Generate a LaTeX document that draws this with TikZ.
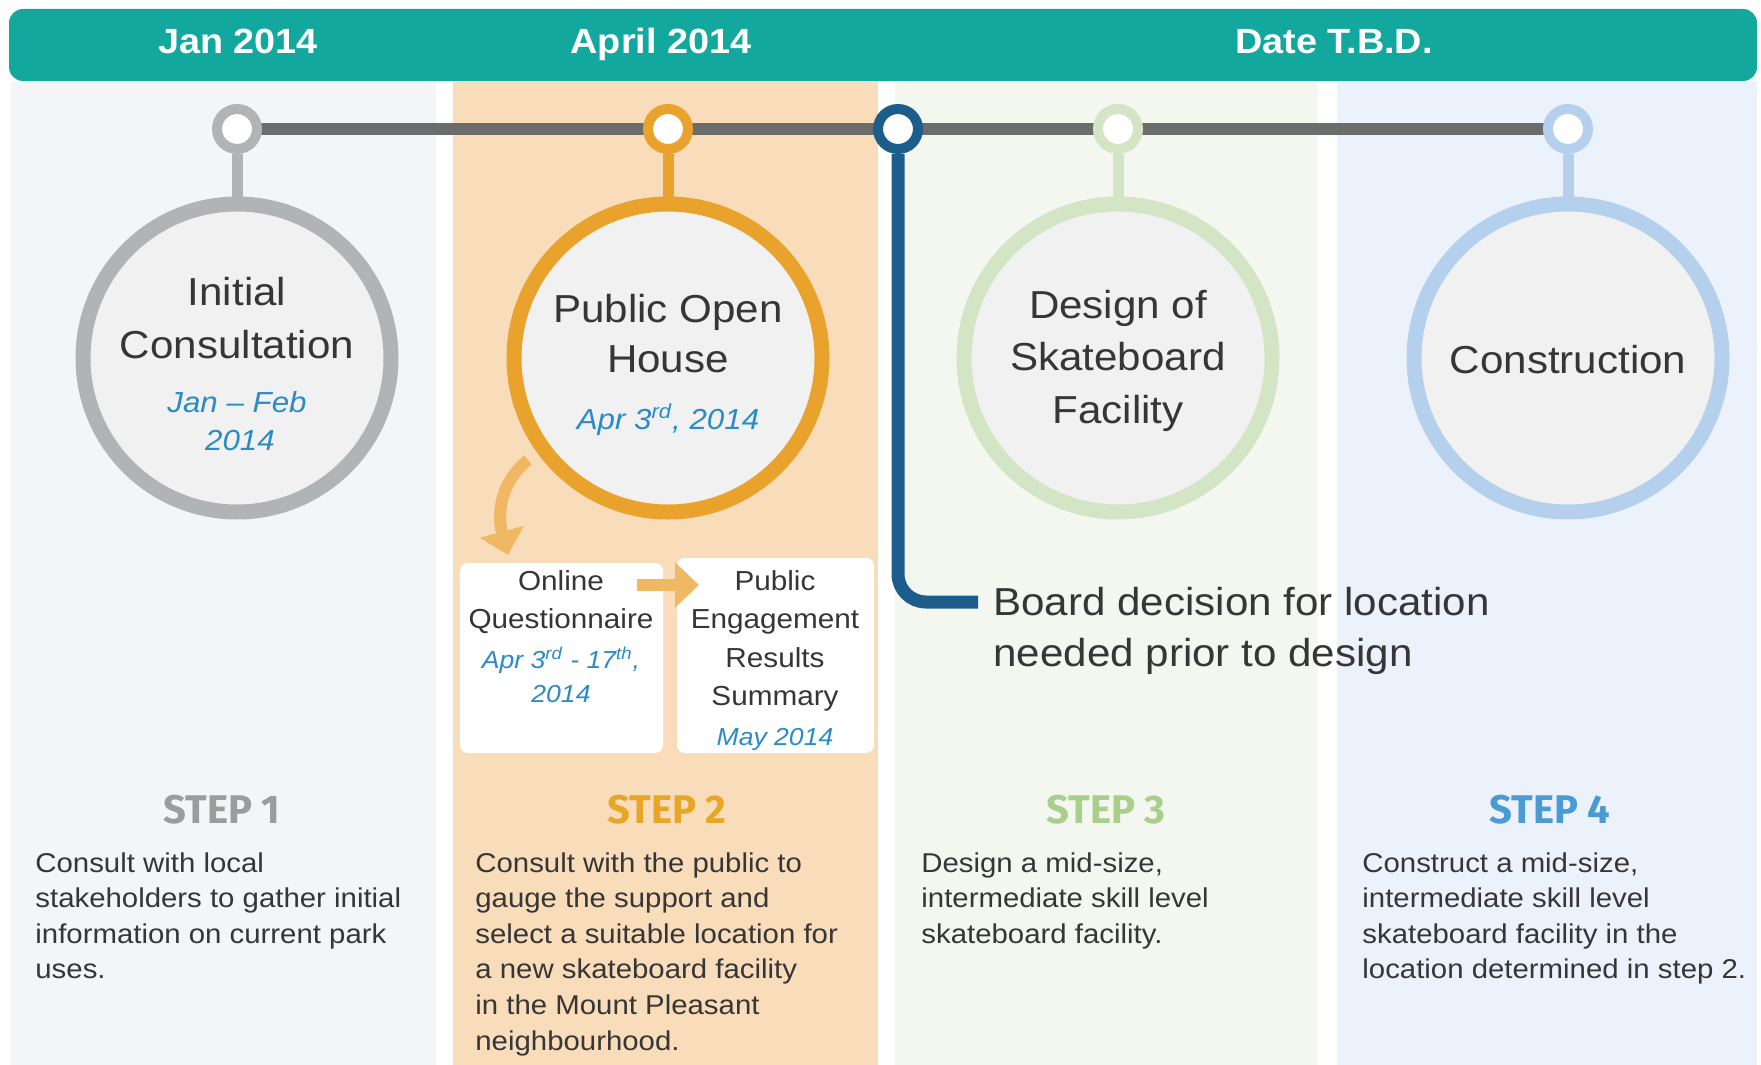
\documentclass[tikz,border=0pt]{standalone}
\usepackage{fontspec}
\setmainfont{Liberation Sans}[FakeStretch=1.08]
\newfontfamily\stepfont{Fira Sans}
\usetikzlibrary{arrows.meta}
\definecolor{hdr}{HTML}{13A89E}
\definecolor{bgA}{HTML}{F3F5F6}
\definecolor{bgB}{HTML}{F9DDBB}
\definecolor{bgC}{HTML}{F3F7EF}
\definecolor{bgD}{HTML}{ECF2FC}
\definecolor{cA}{HTML}{B1B4B4}
\definecolor{cB}{HTML}{E9A22C}
\definecolor{cC}{HTML}{D4E5C5}
\definecolor{cD}{HTML}{B5D0EC}
\definecolor{cBlue}{HTML}{1D5D8C}
\definecolor{tline}{HTML}{6B6D6D}
\definecolor{cfill}{HTML}{F1F1F2}
\definecolor{txt}{HTML}{363636}
\definecolor{datec}{HTML}{2A8BC6}
\definecolor{arrc}{HTML}{F1B864}
\definecolor{sA}{HTML}{9C9C9C}
\definecolor{sB}{HTML}{E8A628}
\definecolor{sC}{HTML}{A8CF8C}
\definecolor{sD}{HTML}{4A9AD3}
\begin{document}
\begin{tikzpicture}[x=0.5pt,y=-0.5pt,
  ring/.style={circle,fill=white,draw=#1,line width=5pt,minimum size=20pt,inner sep=0pt},
  big/.style={circle,fill=cfill,draw=#1,line width=7.5pt,minimum size=154pt,inner sep=0pt},
  stem/.style={draw=#1,line width=5.5pt},
  hdrtext/.style={anchor=base,text=white,font=\bfseries\fontsize{17.5pt}{20pt}\selectfont,inner sep=0pt},
  ctext/.style={anchor=base,text=txt,font=\fontsize{19.5pt}{23pt}\selectfont,inner sep=0pt},
  cdate/.style={anchor=base,text=datec,font=\itshape\fontsize{14.5pt}{17pt}\selectfont,inner sep=0pt},
  btext/.style={anchor=base,text=txt,font=\fontsize{13.75pt}{16pt}\selectfont,inner sep=0pt},
  bdate/.style={anchor=base,text=datec,font=\itshape\fontsize{12.3pt}{15pt}\selectfont,inner sep=0pt},
  wbox/.style={draw=none,fill=white,rounded corners=4pt,inner sep=0pt},
  steplbl/.style={anchor=base,text=#1,font=\stepfont\bfseries\fontsize{20pt}{24pt}\selectfont,inner sep=0pt},
  desc/.style={anchor=north west,align=left,text=txt,inner sep=0pt,font=\fontsize{13.6pt}{17.8pt}\selectfont},
  arr/.style={draw=arrc,line width=6pt,-{Triangle[length=12pt,width=22pt]}}
]
\useasboundingbox (0,0) rectangle (1761,1065);
\fill[white] (0,0) rectangle (1761,1065);
% column backgrounds
\fill[bgA] (11,81) rectangle (436,1065);
\fill[bgB] (453,81) rectangle (878,1065);
\fill[bgC] (895,81) rectangle (1318,1065);
\fill[bgD] (1337,81) rectangle (1757,1065);
% header
\fill[hdr,rounded corners=7pt] (9,9) rectangle (1757,81);
\node[hdrtext] (h1) at (238,54) {Jan 2014};
\node[hdrtext] (h2) at (661,54) {April 2014};
\node[hdrtext] (h3) at (1334,54) {Date T.B.D.};
% timeline
\coordinate (p1) at (237,129);
\coordinate (p2) at (668,129);
\coordinate (p3) at (898,129);
\coordinate (p4) at (1118,129);
\coordinate (p5) at (1568,129);
\draw[tline,line width=6pt] (p1) -- (p5);
% big circles
\node[big=cA] (C1) at (237,358) {};
\node[big=cB] (C2) at (668,358) {};
\node[big=cC] (C3) at (1118,358) {};
\node[big=cD] (C4) at (1568,358) {};
% rings
\node[ring=cA] (r1) at (p1) {};
\node[ring=cB] (r2) at (p2) {};
\node[ring=cBlue] (r3) at (p3) {};
\node[ring=cC] (r4) at (p4) {};
\node[ring=cD] (r5) at (p5) {};
\draw[stem=cA] (r1) -- (C1);
\draw[stem=cB] (r2) -- (C2);
\draw[stem=cC] (r4) -- (C3);
\draw[stem=cD] (r5) -- (C4);
% board decision line
\coordinate (bend) at (978,602);
\draw[cBlue,line width=6.5pt,rounded corners=14pt] (r3) |- (bend);
\node[anchor=north west,align=left,text=txt,inner sep=0pt,font=\fontsize{19.5pt}{25.5pt}\selectfont] (board) at (993,587) {Board decision for location\\needed prior to design};
% circle texts
\node[ctext] (t11) at (237,305) {Initial};
\node[ctext] (t12) at (237,358) {Consultation};
\node[cdate] (t13) at (237,412) {Jan -- Feb};
\node[cdate] (t14) at (240,450) {2014};
\node[ctext] (t21) at (668,322) {Public Open};
\node[ctext] (t22) at (668,372) {House};
\node[cdate] (t23) at (668,429) {Apr 3\textsuperscript{rd}, 2014};
\node[ctext] (t31) at (1118,318) {Design of};
\node[ctext] (t32) at (1118,370) {Skateboard};
\node[ctext] (t33) at (1118,423) {Facility};
\node[ctext] (t41) at (1568,373) {Construction};
% boxes
\node[wbox,minimum width=101.5pt,minimum height=95pt] (q) at (561.5,658) {};
\node[wbox,minimum width=98.5pt,minimum height=97.5pt] (r) at (775.5,655.5) {};
\node[btext] (q1) at (561,590) {Online};
\node[btext] (q2) at (561,628) {Questionnaire};
\node[bdate] (q3) at (561,668) {Apr 3\textsuperscript{rd} - 17\textsuperscript{th},};
\node[bdate] (q4) at (561,702) {2014};
\node[btext] (s1) at (775,590) {Public};
\node[btext] (s2) at (775,628) {Engagement};
\node[btext] (s3) at (775,667) {Results};
\node[btext] (s4) at (775,705) {Summary};
\node[bdate] (s5) at (775,745) {May 2014};
% arrows
\coordinate (a1s) at (528,460);
\coordinate (a1e) at (508,555);
\draw[arr] (a1s) .. controls (503,480) and (496,510) .. (a1e);
\coordinate (a2s) at (637,585);
\coordinate (a2e) at (699,585);
\draw[arr] (a2s) -- (a2e);
% steps
\node[steplbl=sA] (st1) at (222,823) {STEP 1};
\node[steplbl=sB] (st2) at (667,823) {STEP 2};
\node[steplbl=sC] (st3) at (1106,823) {STEP 3};
\node[steplbl=sD] (st4) at (1550,823) {STEP 4};
% descriptions
\node[desc] (d1) at (35,852) {Consult with local\\stakeholders to gather initial\\information on current park\\uses.};
\node[desc] (d2) at (475,852) {Consult with the public to\\gauge the support and\\select a suitable location for\\a new skateboard facility\\in the Mount Pleasant\\neighbourhood.};
\node[desc] (d3) at (921,852) {Design a mid-size,\\intermediate skill level\\skateboard facility.};
\node[desc] (d4) at (1362,852) {Construct a mid-size,\\intermediate skill level\\skateboard facility in the\\location determined in step 2.};
\end{tikzpicture}
\end{document}
